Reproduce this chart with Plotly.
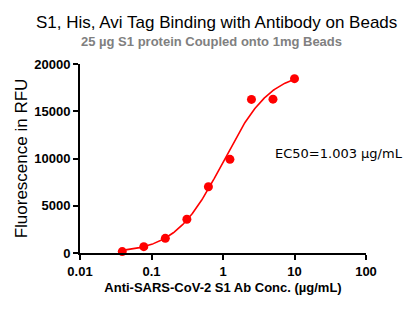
import numpy as np
import plotly.graph_objects as go

# Data
conc = [0.039, 0.078, 0.156, 0.3125, 0.625, 1.25, 2.5, 5, 10]
rfu = [150, 670, 1550, 3570, 7010, 9910, 16250, 16280, 18450]

# 4PL fit parameters (EC50 from the chart)
fit_bottom = 0
fit_top = 19320
fit_ec50 = 1.003
fit_hill = 1.3

x_ticks = [0.01, 0.1, 1, 10, 100]
x_tick_labels = ["0.01", "0.1", "1", "10", "100"]
y_ticks = [0, 5000, 10000, 15000, 20000]

xc = np.logspace(np.log10(min(conc)), np.log10(max(conc)), 200)
yc = fit_bottom + (fit_top - fit_bottom) / (1 + (fit_ec50 / xc) ** fit_hill)

W, H = 417, 311
L, R, T, B = 80, 51, 64, 58
PW, PH = W - L - R, H - T - B


def px(x):
    return (x - L) / PW


def py(y):
    return (H - B - y) / PH


fig = go.Figure()
fig.add_trace(go.Scatter(x=xc, y=yc, mode="lines",
                         line=dict(color="#ff0000", width=1.6), hoverinfo="skip"))
fig.add_trace(go.Scatter(x=conc, y=rfu, mode="markers",
                         marker=dict(color="#ff0000", size=9), cliponaxis=False))

tickfont = dict(family="Arial, Liberation Sans", size=13, color="black", weight="bold")

fig.update_layout(
    width=W, height=H,
    margin=dict(l=L, r=R, t=T, b=B),
    paper_bgcolor="white", plot_bgcolor="white",
    showlegend=False,
    xaxis=dict(type="log", range=[-2, 2], tickvals=x_ticks, ticktext=x_tick_labels,
               showgrid=False, zeroline=False, showline=True, linecolor="black", linewidth=2,
               ticks="outside", ticklen=5, tickwidth=2, tickcolor="black",
               tickfont=tickfont,
               title=dict(text="Anti-SARS-CoV-2 S1 Ab Conc. (µg/mL)",
                          font=dict(family="Arial, Liberation Sans", size=13, color="black", weight="bold"),
                          standoff=5)),
    yaxis=dict(range=[0, 20000], tickvals=y_ticks, tickformat="d",
               showgrid=False, zeroline=False, showline=True, linecolor="black", linewidth=2,
               ticks="outside", ticklen=5, tickwidth=2, tickcolor="black",
               tickfont=tickfont,
               title=dict(text="Fluorescence in RFU",
                          font=dict(family="Arial, Liberation Sans", size=17, color="black"),
                          standoff=2)),
    annotations=[
        dict(text="S1, His, Avi Tag Binding with Antibody on Beads", xref="paper", yref="paper",
             x=px(216), y=py(23), xanchor="center", yanchor="middle", showarrow=False,
             font=dict(family="Arial, Liberation Sans", size=17, color="black")),
        dict(text="25 µg S1 protein Coupled onto 1mg Beads", xref="paper", yref="paper",
             x=px(211), y=py(41), xanchor="center", yanchor="middle", showarrow=False,
             font=dict(family="Arial, Liberation Sans", size=13, color="#808080", weight="bold")),
        dict(text="EC50=1.003 µg/mL", xref="paper", yref="paper",
             x=px(339), y=py(153), xanchor="center", yanchor="middle", showarrow=False,
             font=dict(family="DejaVu Sans", size=13, color="black")),
    ],
)

fig.write_html("out.html")
